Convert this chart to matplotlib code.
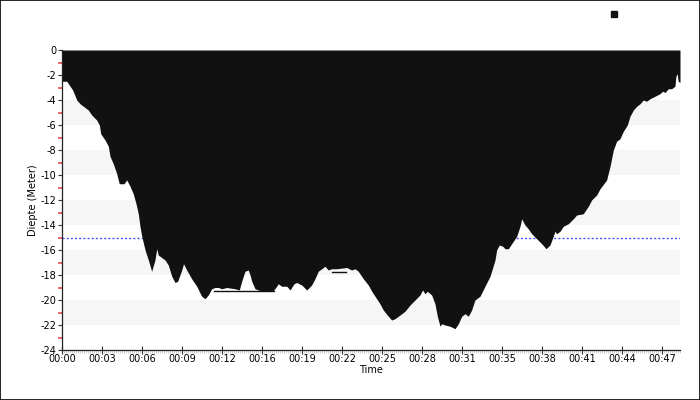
import matplotlib
matplotlib.use("Agg")
import matplotlib.pyplot as plt
from matplotlib.lines import Line2D
from matplotlib.patches import Rectangle
import numpy as np

# ---- data (time in minutes, depth in metres) ----
time_min = [0.00, 0.37, 0.84, 1.16, 1.42, 2.07, 2.34, 2.73, 2.94, 3.05, 3.39, 3.65, 3.78, 4.04,
            4.31, 4.51, 4.88, 5.10, 5.36, 5.61, 5.83, 6.01, 6.14, 6.28, 6.54, 6.80, 7.06, 7.32,
            7.46, 7.58, 7.72, 8.11, 8.37, 8.64, 8.90, 9.11, 9.43, 9.57, 9.82, 10.21, 10.61,
            11.00, 11.26, 11.52, 11.79, 12.05, 12.31, 12.58, 12.97, 13.62, 13.96, 14.15, 14.41,
            14.67, 14.81, 14.94, 15.20, 15.59, 16.64, 16.91, 17.03, 17.30, 17.70, 17.96, 18.27,
            18.48, 18.88, 19.27, 19.66, 19.92, 20.18, 20.45, 20.71, 20.97, 21.24, 21.63, 22.42,
            22.81, 23.07, 23.33, 23.73, 24.12, 24.39, 24.78, 25.04, 25.30, 25.70, 25.96, 26.22,
            26.62, 27.01, 27.41, 27.80, 28.19, 28.40, 28.59, 28.77, 29.11, 29.37, 29.56, 29.77,
            29.90, 30.16, 30.56, 30.95, 31.21, 31.48, 31.74, 32.00, 32.26, 32.52, 32.92, 33.31,
            33.71, 34.10, 34.23, 34.44, 34.70, 34.89, 35.15, 35.41, 35.81, 36.07, 36.20, 36.46,
            36.72, 36.99, 37.38, 37.78, 38.12, 38.43, 38.69, 38.82, 38.96, 39.22, 39.48, 39.87,
            40.27, 40.53, 41.05, 41.45, 41.71, 42.11, 42.37, 42.89, 43.16, 43.42, 43.68, 43.94,
            44.21, 44.52, 44.73, 45.00, 45.26, 45.52, 45.78, 46.04, 46.31, 46.70, 47.09, 47.30,
            47.49, 47.75, 48.01, 48.27, 48.35, 48.45, 48.53, 48.67]
depth_m = [-2.5, -2.5, -3.2, -4.0, -4.3, -4.8, -5.2, -5.6, -6.0, -6.7, -7.2, -7.7, -8.5, -9.1,
           -9.9, -10.7, -10.7, -10.4, -10.9, -11.5, -12.3, -13.1, -14.1, -14.9, -16.0, -16.8, -17.7, -16.8,
           -15.9, -16.4, -16.5, -16.8, -17.2, -18.1, -18.6, -18.5, -17.6, -17.1, -17.6, -18.3, -18.9,
           -19.7, -19.9, -19.6, -19.1, -19.0, -19.0, -19.1, -19.0, -19.1, -19.2, -18.5, -17.7,
           -17.6, -18.0, -18.5, -19.1, -19.25, -19.25, -18.9, -18.7, -18.9, -18.9, -19.2, -18.7,
           -18.6, -18.8, -19.2, -18.8, -18.3, -17.7, -17.5, -17.3, -17.6, -17.5, -17.5, -17.4,
           -17.6, -17.5, -17.7, -18.3, -18.8, -19.3, -19.9, -20.3, -20.8, -21.3, -21.6, -21.5,
           -21.2, -20.9, -20.4, -20.0, -19.6, -19.2, -19.5, -19.3, -19.6, -20.3, -21.3, -22.1,
           -21.9, -22.0, -22.1, -22.3, -21.9, -21.3, -21.1, -21.3, -20.8, -20.0, -19.7, -18.9,
           -18.1, -16.8, -16.0, -15.6, -15.7, -15.9, -15.9, -15.5, -14.9, -14.1, -13.5, -14.0,
           -14.3, -14.7, -15.1, -15.5, -15.9, -15.6, -14.9, -14.5, -14.7, -14.5, -14.1, -13.9,
           -13.5, -13.2, -13.1, -12.5, -12.0, -11.6, -11.1, -10.4, -9.3, -8.0, -7.3, -7.1,
           -6.5, -6.0, -5.3, -4.8, -4.5, -4.3, -4.0, -4.1, -3.9, -3.7, -3.5, -3.3,
           -3.4, -3.1, -3.1, -2.9, -2.1, -1.9, -2.5, -2.6]

# thin connecting segments visible under the profile
seg1_time = [12.00, 16.70]
seg1_depth = [-19.25, -19.25]
seg2_time = [21.30, 22.40]
seg2_depth = [-17.75, -17.75]

tick_step_min = 3.15
x_tick_labels = ["00:00", "00:03", "00:06", "00:09", "00:12", "00:16", "00:19", "00:22",
                 "00:25", "00:28", "00:31", "00:35", "00:38", "00:41", "00:44", "00:47"]
y_ticks = [0, -2, -4, -6, -8, -10, -12, -14, -16, -18, -20, -22, -24]
band_ranges = [(-6, -4), (-10, -8), (-14, -12), (-18, -16), (-22, -20)]
reference_depth = -15

# ---- figure ----
fig = plt.figure(figsize=(7, 4), dpi=100)
ax = fig.add_axes([62 / 700, 50 / 400, 618 / 700, 300 / 400])

for lo, hi in band_ranges:
    ax.axhspan(lo, hi, color="#f6f6f6", lw=0, zorder=0)

ax.axhline(reference_depth, color="#5050ff", lw=1.0, ls=(0, (1.5, 1.5)), zorder=1)
ax.fill_between(time_min, depth_m, 0, color="#111111", lw=0, zorder=2)
ax.plot(seg1_time, seg1_depth, color="#111111", lw=1.0, zorder=2)
ax.plot(seg2_time, seg2_depth, color="#111111", lw=1.0, zorder=2)

ax.set_xlim(0, time_min[-1])
ax.set_ylim(-24, 0)

xt = [i * tick_step_min for i in range(len(x_tick_labels))]
ax.set_xticks(xt)
ax.set_xticklabels(x_tick_labels)
ax.set_xticks(np.arange(0, time_min[-1], tick_step_min / 20), minor=True)
ax.set_yticks(y_ticks)
ax.set_yticklabels([str(v) for v in y_ticks])
ax.set_yticks(np.arange(-23, 0, 2), minor=True)

ax.tick_params(axis="x", which="major", direction="inout", length=6, width=0.8,
               labelsize=7, pad=0, color="#333333")
ax.tick_params(axis="x", which="minor", direction="out", length=2, width=0.5, color="#bbbbbb")
ax.tick_params(axis="y", which="major", direction="out", length=3, width=0.8,
               labelsize=7, pad=1, color="#333333")
ax.tick_params(axis="y", which="minor", direction="out", length=3, width=1.2, color="#e05050")

for s in ["top", "right"]:
    ax.spines[s].set_visible(False)
for s in ["left", "bottom"]:
    ax.spines[s].set_color("#222222")
    ax.spines[s].set_linewidth(0.9)

ax.set_ylabel("Diepte (Meter)", fontsize=7, labelpad=2)
ax.set_xlabel("Time", fontsize=7, labelpad=0.5)

handle = Line2D([], [], marker="s", color="#111111", linestyle="", markersize=4.5)
ax.legend([handle], [""], loc="center", bbox_to_anchor=(614 / 700, 385 / 400),
          bbox_transform=fig.transFigure, frameon=False, handlelength=0.5,
          handletextpad=0, borderpad=0)

fig.patches.append(Rectangle((0.0007, 0.0012), 0.9986, 0.9976, transform=fig.transFigure,
                             fill=False, edgecolor="black", lw=1.2))

fig.savefig("out.png", dpi=100)
